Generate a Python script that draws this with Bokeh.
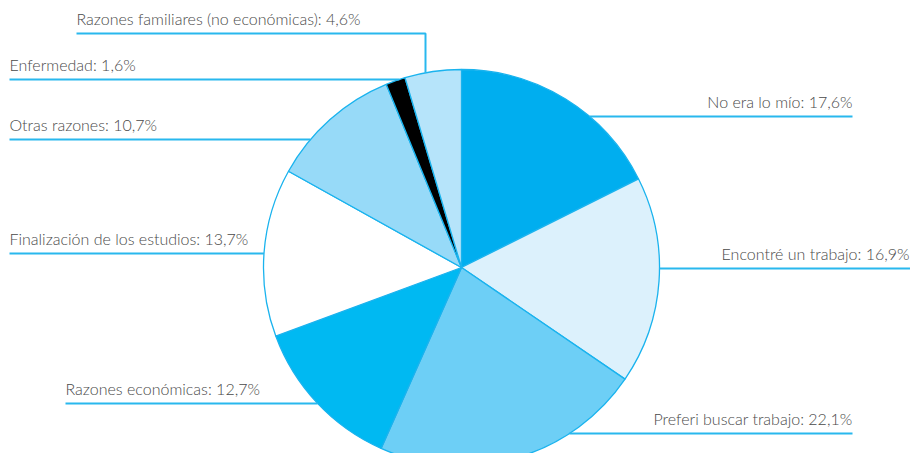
import math
from bokeh.plotting import figure
from bokeh.models import Range1d, ColumnDataSource
from bokeh.core.properties import value
from bokeh.embed import file_html
from bokeh.resources import INLINE

# ---- data ----
categories = ["No era lo mío", "Encontré un trabajo", "Preferi buscar trabajo",
              "Razones económicas", "Finalización de los estudios", "Otras razones",
              "Enfermedad", "Razones familiares (no económicas)"]
values = [17.6, 16.9, 22.1, 12.7, 13.7, 10.7, 1.6, 4.6]
colors = ["#00AEEF", "#DCF1FC", "#6DCFF6", "#00B9F2", "#FFFFFF", "#97DAF8", "#000000", "#B6E4FA"]

# ---- layout (pixel coords, y downward) ----
W, H = 910, 453
CX, CY, R = 461, 267, 198
# label anchor: (text x, line y, side, line outer x)
label_layout = [
    (852, 116, "right", 852),
    (909, 268, "right", 910),
    (852, 433, "right", 852),
    (65, 403, "left", 65),
    (9, 253, "left", 9),
    (9, 139, "left", 9),
    (9, 79, "left", 9),
    (76, 33, "left", 425),
]

def py(y):
    return H - y

p = figure(width=W, height=H, output_backend="svg", toolbar_location=None,
           x_range=Range1d(0, W), y_range=Range1d(0, H),
           min_border=0, outline_line_color=None)
p.axis.visible = False
p.grid.visible = False
p.background_fill_color = "white"

total = sum(values)
starts, ends = [], []
cum = 0.0
for v in values:
    starts.append(math.pi / 2 - cum / total * 2 * math.pi)
    cum += v
    ends.append(math.pi / 2 - cum / total * 2 * math.pi)

src = ColumnDataSource(dict(x=[CX] * len(values), y=[py(CY)] * len(values),
                            start=starts, end=ends, color=colors))
p.wedge(x="x", y="y", radius=R, start_angle="start", end_angle="end",
        direction="clock", fill_color="color", line_color="#1AB3EE",
        line_width=1.3, source=src)

# leader lines
xs, ys = [], []
for i, (tx, ly, side, ox) in enumerate(label_layout):
    dy = ly - CY
    if i == 7:
        ey = CY - math.sqrt(R * R - (ox - CX) ** 2)
        xs.append([tx, ox, ox])
        ys.append([py(ly), py(ly), py(ey)])
        continue
    dx = math.sqrt(max(R * R - dy * dy, 0))
    ex = CX + dx if side == "right" else CX - dx
    xs.append([ex, ox])
    ys.append([py(ly), py(ly)])
p.multi_line(xs=xs, ys=ys, line_color="#29B8EE", line_width=2)

labels = [f"{c}: {str(v).replace('.', ',')}%" for c, v in zip(categories, values)]
tsrc = ColumnDataSource(dict(
    x=[l[0] for l in label_layout],
    y=[py(l[1] - 15) for l in label_layout],
    text=labels,
    align=[l[2] for l in label_layout]))
p.text(x="x", y="y", text="text", text_align="align", source=tsrc,
       text_baseline="alphabetic", text_font=value("Lato Light, Lato"),
       text_font_size="16px", text_color="#4A4A4A")

open("out.html", "w").write(file_html(p, INLINE))
